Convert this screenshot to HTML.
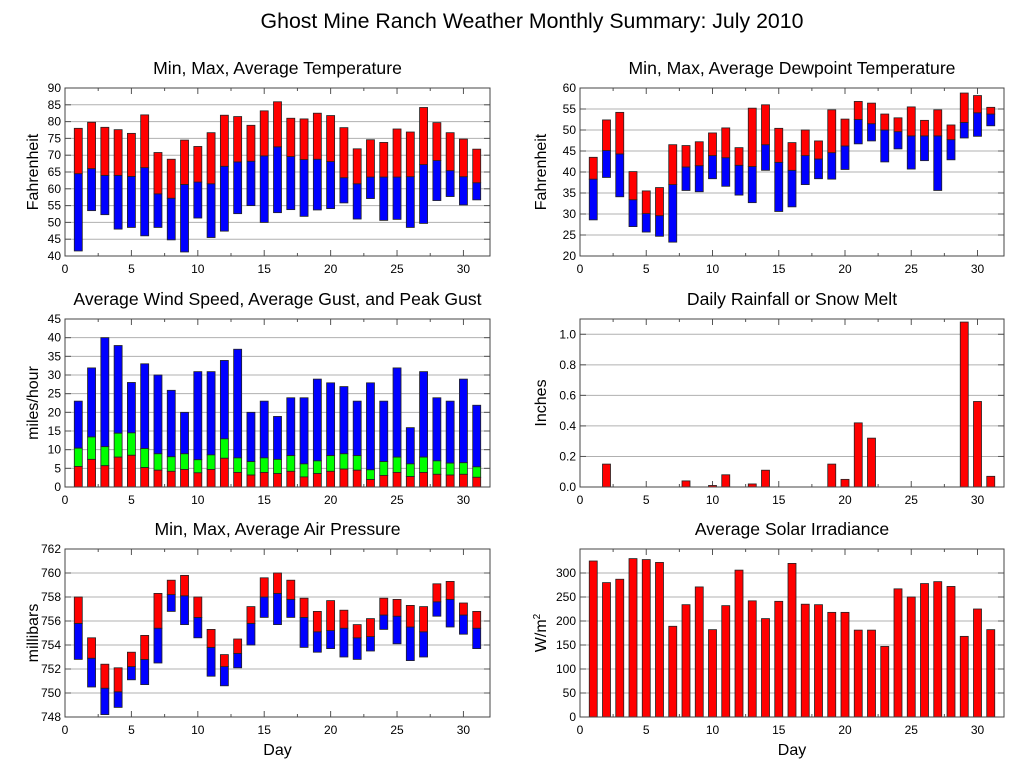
<!DOCTYPE html>
<html><head><meta charset="utf-8"><style>
body{margin:0;background:#fff;}
svg{display:block;font-family:"Liberation Sans",sans-serif;}
</style></head><body>
<svg id="c" width="1027" height="772" viewBox="0 0 1027 772">
<text x="532" y="28" font-size="21.3" text-anchor="middle">Ghost Mine Ranch Weather Monthly Summary: July 2010</text>
</svg>
<script>
const days = Array.from({length:31},(_,i)=>i+1);
const tempMax=[78,79.8,78.3,77.6,76.5,82,70.8,68.8,74.5,72.6,76.7,81.9,81.5,78.9,83.2,85.9,81,80.8,82.5,81.8,78.2,71.9,74.6,73.8,77.8,76.9,84.2,79.7,76.7,74.8,71.8];
const tempAvg=[64.5,66,64,64,63.7,66.3,58.5,57.2,61.3,62,61.5,66.7,68,68.2,69.8,72.5,69.6,68.7,68.8,68.1,63.3,61.5,63.5,63.5,63.5,63.6,67.2,68.4,65.4,63.6,61.8];
const tempMin=[41.5,53.5,52.3,48,48.5,46,48.5,44.8,41.2,51.3,45.5,47.4,52.6,55,50,52.9,53.8,51.8,53.7,54.1,55.8,51,57.1,50.6,50.9,48.5,49.7,56.5,57.7,55.2,56.7];
const dewMax=[43.5,52.4,54.2,40.1,35.5,36.3,46.5,46.3,47.2,49.3,50.5,45.8,55.2,56,50.4,47,50,47.4,54.8,52.6,56.8,56.4,53.8,52.9,55.5,52.3,54.8,51.2,58.8,58.2,55.4];
const dewAvg=[38.3,45.1,44.3,33.4,30.1,29.6,37,41.2,41.5,43.9,43.4,41.6,41.3,46.5,42.3,40.4,43.9,43.1,44.6,46.2,52.5,51.5,50,49.6,48.6,48.6,48.6,47.7,51.8,54.1,53.8];
const dewMin=[28.6,38.7,34.1,27,25.7,24.7,23.3,35.6,35.3,38.4,36.6,34.5,32.7,40.4,30.6,31.7,37,38.4,38.3,40.6,46.7,47.4,42.4,45.5,40.7,42.7,35.6,42.9,48.1,48.5,51];
const windPeak=[23,31.9,40,37.9,28,33,30,25.9,20,30.9,30.9,33.9,36.9,20,23,18.9,23.9,23.9,28.9,27.9,26.9,23,27.9,23,31.9,15.9,30.9,23.9,23,28.9,21.9];
const windGust=[10.4,13.4,10.8,14.4,14.5,10.3,8.9,8.1,8.9,7.3,8.6,12.9,7.8,6.8,7.8,7.4,8.4,6.2,7,8.4,8.9,8.4,4.6,6.8,8,6.2,8,7,6.4,6.5,5.4];
const windAvg=[5.5,7.4,5.7,8,8.5,5.2,4.5,4.2,4.7,3.8,4.7,7.7,3.9,3.2,3.9,3.6,4.2,2.7,3.6,4.2,4.8,4.5,2,3.1,3.9,2.8,3.9,3.4,3.2,3.4,2.6];
const rain=[0,0.15,0,0,0,0,0,0.04,0,0.01,0.08,0,0.02,0.11,0,0,0,0,0.15,0.05,0.42,0.32,0,0,0,0,0,0,1.08,0.56,0.07];
const presMax=[758,754.6,752.4,752.1,753.4,754.8,758.3,759.4,759.8,758,755.3,753.2,754.5,757.2,759.6,760,759.4,757.9,756.8,757.7,756.9,755.7,756.2,757.9,757.8,757.3,757.2,759.1,759.3,757.5,756.8];
const presAvg=[755.8,752.9,750.4,750.1,752.2,752.8,755.4,758.2,758.1,756.3,753.8,752.2,753.3,755.8,758,758.3,757.8,756.3,755.1,755.2,755.4,754.6,754.7,756.5,756.4,755.5,755.1,757.6,757.8,756.5,755.4];
const presMin=[752.8,750.5,748.2,748.8,751.1,750.7,752.5,756.8,755.7,754.6,751.4,750.6,752.1,754,756.3,755.7,756.3,753.8,753.4,753.7,753,752.8,753.5,755.3,754.1,752.7,753,756.4,755.5,754.9,753.7];
const solar=[325,280,287,330,328,322,189,234,271,182,232,306,242,205,241,320,235,234,218,218,181,181,147,267,250,278,282,272,168,225,182];
const xTicks=[0,5,10,15,20,25,30];

const NS='http://www.w3.org/2000/svg';
const svg=document.getElementById('c');
function mk(tag,attrs,parent){const e=document.createElementNS(NS,tag);for(const k in attrs)e.setAttribute(k,attrs[k]);(parent||svg).appendChild(e);return e;}

function panel(name,L,R,T,B,ymin,ymax,ystep,tickMax,title,ylabel,fmt,xlabel,ytOff){
  const g=mk('g',{});
  
  
  const xs=d=>L+(R-L)*d/32;
  const ys=v=>B-(B-T)*(v-ymin)/(ymax-ymin);
  const n=Math.round((tickMax-ymin)/ystep);
  for(let i=0;i<=n;i++){
    const v=ymin+i*ystep, y=ys(v);
    if(y<T-0.5) break;
    if(i>0&&y>T+0.5){const gl=mk('line',{x1:L,x2:R,y1:y,y2:y,stroke:'#b0b0b0','stroke-width':1},g);
      
      }
    mk('line',{x1:L,x2:L+6,y1:y,y2:y,stroke:'#555'},g);
    mk('line',{x1:R-6,x2:R,y1:y,y2:y,stroke:'#555'},g);
    const t=mk('text',{x:L-4,y:y+4,'font-size':12,'text-anchor':'end'},g);
    t.textContent=fmt(v);
    
    
  }
  for(let d=2.5;d<32;d+=2.5){
    const x=xs(d), len=(d%5===0)?6:3;
    mk('line',{x1:x,x2:x,y1:B,y2:B-len,stroke:'#555'},g);
    mk('line',{x1:x,x2:x,y1:T,y2:T+len,stroke:'#555'},g);
  }
  xTicks.forEach(d=>{
    const t=mk('text',{x:xs(d),y:B+17,'font-size':12,'text-anchor':'middle'},g);
    t.textContent=d;
    
    
  });
  const tt=mk('text',{x:(L+R)/2,y:T-14,'font-size':17.6,'text-anchor':'middle'},g);
  tt.textContent=title;
  
  
  const yl=mk('text',{x:0,y:0,'font-size':16,'text-anchor':'middle',transform:`translate(${L-ytOff},${(T+B)/2}) rotate(-90)`},g);
  if(ylabel==='W/m2'){yl.innerHTML='W/m<tspan dy="-6" font-size="10">2</tspan>';}
  else yl.textContent=ylabel;
  
  
  if(xlabel){const xl=mk('text',{x:(L+R)/2,y:B+38,'font-size':16,'text-anchor':'middle'},g);
    xl.textContent='Day';
    
    }
  const bars=mk('g',{},g);
  
  
  const fr=mk('rect',{x:L,y:T,width:R-L,height:B-T,fill:'none',stroke:'#444','stroke-width':1},g);
  
  
  return {xs,ys,bars};
}
function bar(p,d,lo,hi,color,nm){
  const w=8, x=p.xs(d)-w/2, y1=p.ys(hi), y0=p.ys(lo);
  const r=mk('rect',{x:x,y:Math.min(y0,y1),width:w,height:Math.abs(y0-y1),fill:color,stroke:'#222','stroke-width':0.8},p.bars);
  
  
}
const f0=v=>String(Math.round(v));
const f1=v=>v.toFixed(1);

let p=panel('temperature',65,490,88,256,40,90,5,90,'Min, Max, Average Temperature','Fahrenheit',f0,false,27);
days.forEach((d,i)=>{bar(p,d,tempMin[i],tempAvg[i],'#0000ff','temp-min-bar');bar(p,d,tempAvg[i],tempMax[i],'#ff0000','temp-max-bar');});

p=panel('dewpoint',580,1004,88,256,20,60,5,60,'Min, Max, Average Dewpoint Temperature','Fahrenheit',f0,false,34);
days.forEach((d,i)=>{bar(p,d,dewMin[i],dewAvg[i],'#0000ff','dew-min-bar');bar(p,d,dewAvg[i],dewMax[i],'#ff0000','dew-max-bar');});

p=panel('wind',65,490,319,487,0,45,5,45,'Average Wind Speed, Average Gust, and Peak Gust','miles/hour',f0,false,27);
days.forEach((d,i)=>{bar(p,d,windGust[i],windPeak[i],'#0000ff','peak-gust-bar');bar(p,d,windAvg[i],windGust[i],'#00ff00','avg-gust-bar');bar(p,d,0,windAvg[i],'#ff0000','avg-wind-bar');});

p=panel('rain',580,1004,319,487,0,1.1,0.2,1.0,'Daily Rainfall or Snow Melt','Inches',f1,false,34);
days.forEach((d,i)=>{if(rain[i]>0)bar(p,d,0,rain[i],'#ff0000','rain-bar');});

p=panel('pressure',65,490,549,717,748,762,2,762,'Min, Max, Average Air Pressure','millibars',f0,true,27);
days.forEach((d,i)=>{bar(p,d,presMin[i],presAvg[i],'#0000ff','pres-min-bar');bar(p,d,presAvg[i],presMax[i],'#ff0000','pres-max-bar');});

p=panel('solar',580,1004,549,717,0,350,50,300,'Average Solar Irradiance','W/m2',f0,true,34);
days.forEach((d,i)=>{bar(p,d,0,solar[i],'#ff0000','solar-bar');});
</script>
</body></html>
